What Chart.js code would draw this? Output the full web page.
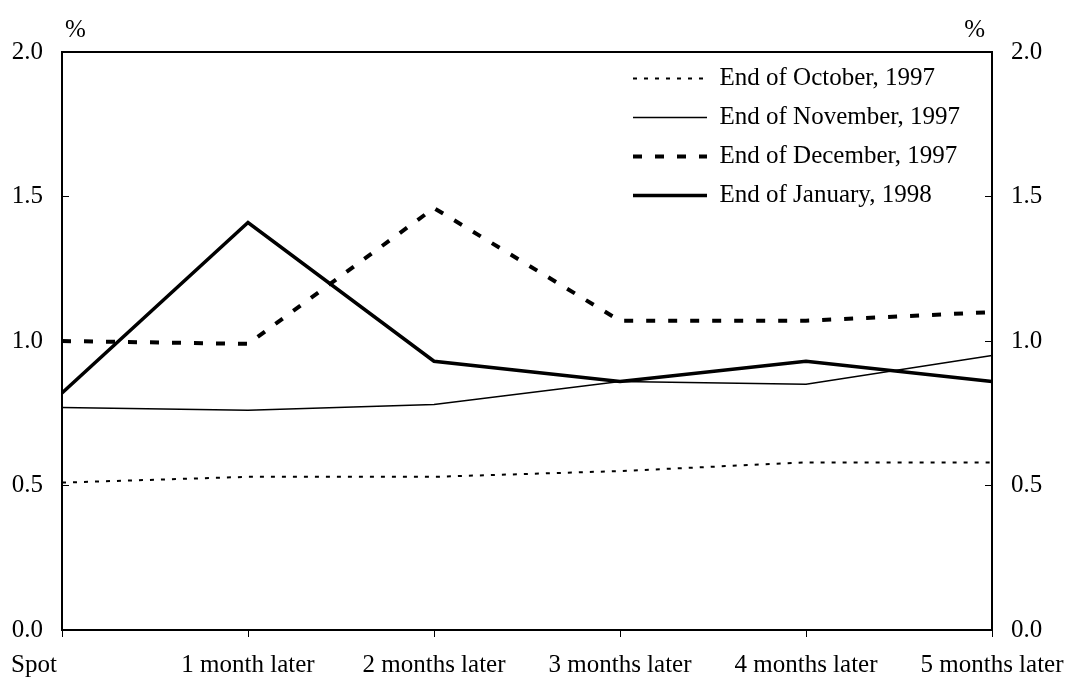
<!DOCTYPE html>
<html><head><meta charset="utf-8">
<script src="https://cdn.jsdelivr.net/npm/chart.js@4.4.1/dist/chart.umd.min.js"></script>
<style>html,body{margin:0;padding:0;background:#fff;}#wrap{width:1069px;height:682px;}</style>
</head><body><div id="wrap"><canvas id="c" width="1069" height="682"></canvas></div>
<script>
const categories = ['Spot', '1 month later', '2 months later', '3 months later', '4 months later', '5 months later'];
const seriesNames = ['End of October, 1997', 'End of November, 1997', 'End of December, 1997', 'End of January, 1998'];
const endOct1997 = [0.51, 0.53, 0.53, 0.55, 0.58, 0.58];
const endNov1997 = [0.77, 0.76, 0.78, 0.86, 0.85, 0.95];
const endDec1997 = [1.00, 0.99, 1.46, 1.07, 1.07, 1.10];
const endJan1998 = [0.82, 1.41, 0.93, 0.86, 0.93, 0.86];
const yTickValues = [0, 0.5, 1.0, 1.5, 2.0];
const unitLabels = ['%', '%'];

const FONT = {family: "'Liberation Serif', 'Times New Roman', serif", size: 25};
Chart.defaults.font.family = FONT.family;
Chart.defaults.font.size = FONT.size;
Chart.defaults.color = '#000';

const unitPlugin = {
  id: 'unitLabels',
  afterDraw(chart) {
    const {ctx, chartArea} = chart;
    ctx.save();
    ctx.font = FONT.size + 'px ' + FONT.family;
    ctx.fillStyle = '#000';
    ctx.textBaseline = 'middle';
    ctx.textAlign = 'left';
    ctx.fillText(unitLabels[0], chartArea.left + 3, chartArea.top - 22);
    ctx.textAlign = 'right';
    ctx.fillText(unitLabels[1], chartArea.right - 7, chartArea.top - 22);
    ctx.restore();
  }
};
const legendPlacePlugin = {
  id: 'legendPlace',
  afterLayout(chart) {
    const lg = chart.legend;
    if (!lg) return;
    lg.left = chart.chartArea.right - 373;
    lg.right = lg.left + lg.width;
    lg.top = chart.chartArea.top;
    lg.bottom = lg.top + lg.height;
  }
};
const firstLabelShift = -28;
const edgeLabelPlugin = {
  id: 'edgeLabel',
  beforeDraw(chart) {
    const s = chart.scales.x;
    const items = s.getLabelItems(chart.chartArea);
    if (items && items.length) {
      items[0].options.translation[0] = s.getPixelForTick(0) + firstLabelShift;
    }
  }
};

const yCommon = {
  type: 'linear', min: 0, max: 2,
  afterBuildTicks: s => { s.ticks = yTickValues.map(v => ({value: v})); },
  grid: {display: true, drawOnChartArea: false, drawTicks: true, tickLength: -7, color: '#000', lineWidth: 1},
  border: {display: true, color: '#000', width: 2},
  ticks: {padding: 26, color: '#000', font: FONT, callback: v => Number(v).toFixed(1)}
};

new Chart(document.getElementById('c'), {
  type: 'line',
  data: {
    labels: categories,
    datasets: [
      {label: seriesNames[0], data: endOct1997, borderColor: '#000', backgroundColor: '#000', borderWidth: 2, borderDash: [4, 7]},
      {label: seriesNames[1], data: endNov1997, borderColor: '#000', backgroundColor: '#000', borderWidth: 1.5},
      {label: seriesNames[2], data: endDec1997, borderColor: '#000', backgroundColor: '#000', borderWidth: 4, borderDash: [9, 13]},
      {label: seriesNames[3], data: endJan1998, borderColor: '#000', backgroundColor: '#000', borderWidth: 3.5}
    ]
  },
  options: {
    responsive: false,
    animation: false,
    devicePixelRatio: 1,
    layout: {padding: {top: 52, left: 0, right: 0, bottom: 0}},
    elements: {point: {radius: 0, hoverRadius: 0}, line: {tension: 0, borderCapStyle: 'butt', fill: false}},
    plugins: {
      title: {display: false},
      tooltip: {enabled: false},
      legend: {
        position: 'chartArea', align: 'start',
        labels: {
          usePointStyle: true, pointStyle: 'line', pointStyleWidth: 74, padding: 14, color: '#000', font: FONT,
          generateLabels(chart) {
            const items = Chart.defaults.plugins.legend.labels.generateLabels(chart);
            items.forEach(it => {
              const ds = chart.data.datasets[it.datasetIndex];
              it.lineDash = ds.borderDash || [];
              it.lineWidth = ds.borderWidth;
              it.strokeStyle = ds.borderColor;
              it.lineCap = 'butt';
            });
            return items;
          }
        }
      }
    },
    scales: {
      x: {
        type: 'category', position: 'bottom', offset: false,
        grid: {display: true, drawOnChartArea: false, drawTicks: true, tickLength: 7, color: '#000', lineWidth: 1, offset: false},
        border: {display: true, color: '#000', width: 2},
        ticks: {autoSkip: false, maxRotation: 0, minRotation: 0, padding: 13, color: '#000', font: FONT},
        afterFit: s => { s.height = 52; s.paddingLeft = 0; s.paddingRight = 0; }
      },
      xTop: {
        type: 'category', position: 'top', labels: categories, offset: false,
        grid: {display: false}, ticks: {display: false},
        border: {display: true, color: '#000', width: 2},
        afterFit: s => { s.height = 0; s.paddingLeft = 0; s.paddingRight = 0; }
      },
      y: Object.assign({}, yCommon, {position: 'left', afterFit: s => { s.width = 62; }}),
      y2: Object.assign({}, yCommon, {position: 'right', afterFit: s => { s.width = 77; }})
    }
  },
  plugins: [unitPlugin, legendPlacePlugin, edgeLabelPlugin]
});
</script>
</body></html>
